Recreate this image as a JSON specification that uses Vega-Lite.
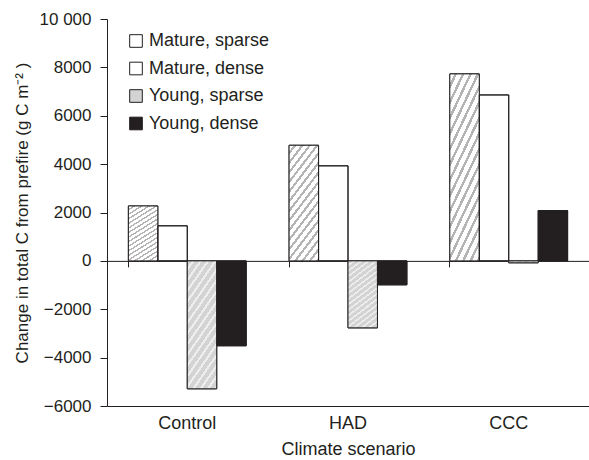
{
  "$schema": "https://vega.github.io/schema/vega-lite/v6.json",
  "width": 482,
  "height": 387,
  "autosize": {"type": "none"},
  "padding": {"left": 107, "top": 19, "right": 0, "bottom": 54},
  "config": {
    "font": "Liberation Sans",
    "view": {"stroke": null},
    "axis": {
      "labelFont": "Liberation Sans",
      "titleFont": "Liberation Sans",
      "labelFontSize": 17,
      "titleFontSize": 18,
      "titleFontWeight": "normal",
      "labelColor": "#231f20",
      "titleColor": "#231f20",
      "domainColor": "#231f20",
      "tickColor": "#231f20",
      "domainWidth": 1,
      "grid": false
    }
  },
  "data": {
    "values": [
      {"scenario": "Control", "stand": "Mature, sparse", "change": 2270},
      {"scenario": "Control", "stand": "Mature, dense", "change": 1450},
      {"scenario": "Control", "stand": "Young, sparse", "change": -5290},
      {"scenario": "Control", "stand": "Young, dense", "change": -3510},
      {"scenario": "HAD", "stand": "Mature, sparse", "change": 4780},
      {"scenario": "HAD", "stand": "Mature, dense", "change": 3930},
      {"scenario": "HAD", "stand": "Young, sparse", "change": -2770},
      {"scenario": "HAD", "stand": "Young, dense", "change": -990},
      {"scenario": "CCC", "stand": "Mature, sparse", "change": 7730},
      {"scenario": "CCC", "stand": "Mature, dense", "change": 6860},
      {"scenario": "CCC", "stand": "Young, sparse", "change": -80},
      {"scenario": "CCC", "stand": "Young, dense", "change": 2080}
    ]
  },
  "encoding": {
    "xOffset": {
      "field": "stand",
      "type": "nominal",
      "sort": ["Mature, sparse", "Mature, dense", "Young, sparse", "Young, dense"],
      "scale": {"paddingInner": 0, "paddingOuter": 0}
    },
    "y": {
      "field": "change",
      "type": "quantitative",
      "scale": {"domain": [-6000, 10000], "nice": false},
      "axis": {
        "title": "Change in total C from prefire (g C m⁻² )",
        "titleFontSize": 17,
        "values": [-6000, -4000, -2000, 0, 2000, 4000, 6000, 8000, 10000],
        "labelExpr": "datum.value == 10000 ? '10 000' : format(datum.value, 'd')",
        "tickSize": 7,
        "labelPadding": 9,
        "titlePadding": 8
      }
    }
  },
  "layer": [
    {
      "mark": {"type": "bar", "stroke": "#231f20", "strokeWidth": 1},
      "encoding": {
        "x": {
          "field": "scenario",
          "type": "nominal",
          "sort": ["Control", "HAD", "CCC"],
          "scale": {"paddingInner": 0.267, "paddingOuter": 0.133},
          "axis": {
            "orient": "bottom",
            "title": "Climate scenario",
            "labelAngle": 0,
            "labelFontSize": 18,
            "ticks": false,
            "domain": true,
            "labelPadding": 8,
            "titlePadding": 8
          }
        },
        "fill": {
          "field": "stand",
          "type": "nominal",
          "scale": {
            "domain": ["Mature, sparse", "Mature, dense", "Young, sparse", "Young, dense"],
            "range": ["#ffffff", "#ffffff", "#d3d3d3", "#231f20"]
          },
          "legend": {
            "orient": "none",
            "legendX": 20,
            "legendY": 13,
            "title": null,
            "labelFontSize": 18,
            "labelFont": "Liberation Sans",
            "labelColor": "#231f20",
            "symbolType": "square",
            "symbolSize": 160,
            "symbolStrokeColor": "#231f20",
            "symbolStrokeWidth": 1,
            "symbolOpacity": 1,
            "rowPadding": 9.5,
            "labelOffset": 4
          }
        }
      }
    },
    {
      "mark": {"type": "bar", "stroke": "#231f20", "strokeWidth": 1},
      "encoding": {
        "x": {
          "field": "scenario",
          "type": "nominal",
          "sort": ["Control", "HAD", "CCC"],
          "axis": {
            "orient": "top",
            "offset": -241.875,
            "labels": false,
            "title": null,
            "ticks": true,
            "tickSize": -6,
            "bandPosition": 0,
            "domain": true
          }
        },
        "fill": {
          "condition": [
            {"test": "datum.stand === 'Mature, sparse'", "value": {"gradient": "linear", "x1": 0, "y1": 0, "x2": 1, "y2": 3, "stops": [
              {"offset": 0, "color": "#ffffff"}, {"offset": 0.016, "color": "#ffffff"}, {"offset": 0.016, "color": "#b4b4b4"}, {"offset": 0.025, "color": "#b4b4b4"},
              {"offset": 0.025, "color": "#ffffff"}, {"offset": 0.041, "color": "#ffffff"}, {"offset": 0.041, "color": "#b4b4b4"}, {"offset": 0.05, "color": "#b4b4b4"},
              {"offset": 0.05, "color": "#ffffff"}, {"offset": 0.066, "color": "#ffffff"}, {"offset": 0.066, "color": "#b4b4b4"}, {"offset": 0.075, "color": "#b4b4b4"},
              {"offset": 0.075, "color": "#ffffff"}, {"offset": 0.091, "color": "#ffffff"}, {"offset": 0.091, "color": "#b4b4b4"}, {"offset": 0.1, "color": "#b4b4b4"},
              {"offset": 0.1, "color": "#ffffff"}, {"offset": 0.116, "color": "#ffffff"}, {"offset": 0.116, "color": "#b4b4b4"}, {"offset": 0.125, "color": "#b4b4b4"},
              {"offset": 0.125, "color": "#ffffff"}, {"offset": 0.141, "color": "#ffffff"}, {"offset": 0.141, "color": "#b4b4b4"}, {"offset": 0.15, "color": "#b4b4b4"},
              {"offset": 0.15, "color": "#ffffff"}, {"offset": 0.166, "color": "#ffffff"}, {"offset": 0.166, "color": "#b4b4b4"}, {"offset": 0.175, "color": "#b4b4b4"},
              {"offset": 0.175, "color": "#ffffff"}, {"offset": 0.191, "color": "#ffffff"}, {"offset": 0.191, "color": "#b4b4b4"}, {"offset": 0.2, "color": "#b4b4b4"},
              {"offset": 0.2, "color": "#ffffff"}, {"offset": 0.216, "color": "#ffffff"}, {"offset": 0.216, "color": "#b4b4b4"}, {"offset": 0.225, "color": "#b4b4b4"},
              {"offset": 0.225, "color": "#ffffff"}, {"offset": 0.241, "color": "#ffffff"}, {"offset": 0.241, "color": "#b4b4b4"}, {"offset": 0.25, "color": "#b4b4b4"},
              {"offset": 0.25, "color": "#ffffff"}, {"offset": 0.266, "color": "#ffffff"}, {"offset": 0.266, "color": "#b4b4b4"}, {"offset": 0.275, "color": "#b4b4b4"},
              {"offset": 0.275, "color": "#ffffff"}, {"offset": 0.291, "color": "#ffffff"}, {"offset": 0.291, "color": "#b4b4b4"}, {"offset": 0.3, "color": "#b4b4b4"},
              {"offset": 0.3, "color": "#ffffff"}, {"offset": 0.316, "color": "#ffffff"}, {"offset": 0.316, "color": "#b4b4b4"}, {"offset": 0.325, "color": "#b4b4b4"},
              {"offset": 0.325, "color": "#ffffff"}, {"offset": 0.341, "color": "#ffffff"}, {"offset": 0.341, "color": "#b4b4b4"}, {"offset": 0.35, "color": "#b4b4b4"},
              {"offset": 0.35, "color": "#ffffff"}, {"offset": 0.366, "color": "#ffffff"}, {"offset": 0.366, "color": "#b4b4b4"}, {"offset": 0.375, "color": "#b4b4b4"},
              {"offset": 0.375, "color": "#ffffff"}, {"offset": 0.391, "color": "#ffffff"}, {"offset": 0.391, "color": "#b4b4b4"}, {"offset": 0.4, "color": "#b4b4b4"},
              {"offset": 0.4, "color": "#ffffff"}, {"offset": 1, "color": "#ffffff"}
            ]}},
            {"test": "datum.stand === 'Young, sparse'", "value": {"gradient": "linear", "x1": 0, "y1": 0, "x2": 1, "y2": 3, "stops": [
              {"offset": 0, "color": "#d3d3d3"}, {"offset": 0.016, "color": "#d3d3d3"}, {"offset": 0.016, "color": "#ededed"}, {"offset": 0.025, "color": "#ededed"},
              {"offset": 0.025, "color": "#d3d3d3"}, {"offset": 0.041, "color": "#d3d3d3"}, {"offset": 0.041, "color": "#ededed"}, {"offset": 0.05, "color": "#ededed"},
              {"offset": 0.05, "color": "#d3d3d3"}, {"offset": 0.066, "color": "#d3d3d3"}, {"offset": 0.066, "color": "#ededed"}, {"offset": 0.075, "color": "#ededed"},
              {"offset": 0.075, "color": "#d3d3d3"}, {"offset": 0.091, "color": "#d3d3d3"}, {"offset": 0.091, "color": "#ededed"}, {"offset": 0.1, "color": "#ededed"},
              {"offset": 0.1, "color": "#d3d3d3"}, {"offset": 0.116, "color": "#d3d3d3"}, {"offset": 0.116, "color": "#ededed"}, {"offset": 0.125, "color": "#ededed"},
              {"offset": 0.125, "color": "#d3d3d3"}, {"offset": 0.141, "color": "#d3d3d3"}, {"offset": 0.141, "color": "#ededed"}, {"offset": 0.15, "color": "#ededed"},
              {"offset": 0.15, "color": "#d3d3d3"}, {"offset": 0.166, "color": "#d3d3d3"}, {"offset": 0.166, "color": "#ededed"}, {"offset": 0.175, "color": "#ededed"},
              {"offset": 0.175, "color": "#d3d3d3"}, {"offset": 0.191, "color": "#d3d3d3"}, {"offset": 0.191, "color": "#ededed"}, {"offset": 0.2, "color": "#ededed"},
              {"offset": 0.2, "color": "#d3d3d3"}, {"offset": 0.216, "color": "#d3d3d3"}, {"offset": 0.216, "color": "#ededed"}, {"offset": 0.225, "color": "#ededed"},
              {"offset": 0.225, "color": "#d3d3d3"}, {"offset": 0.241, "color": "#d3d3d3"}, {"offset": 0.241, "color": "#ededed"}, {"offset": 0.25, "color": "#ededed"},
              {"offset": 0.25, "color": "#d3d3d3"}, {"offset": 0.266, "color": "#d3d3d3"}, {"offset": 0.266, "color": "#ededed"}, {"offset": 0.275, "color": "#ededed"},
              {"offset": 0.275, "color": "#d3d3d3"}, {"offset": 0.291, "color": "#d3d3d3"}, {"offset": 0.291, "color": "#ededed"}, {"offset": 0.3, "color": "#ededed"},
              {"offset": 0.3, "color": "#d3d3d3"}, {"offset": 0.316, "color": "#d3d3d3"}, {"offset": 0.316, "color": "#ededed"}, {"offset": 0.325, "color": "#ededed"},
              {"offset": 0.325, "color": "#d3d3d3"}, {"offset": 0.341, "color": "#d3d3d3"}, {"offset": 0.341, "color": "#ededed"}, {"offset": 0.35, "color": "#ededed"},
              {"offset": 0.35, "color": "#d3d3d3"}, {"offset": 0.366, "color": "#d3d3d3"}, {"offset": 0.366, "color": "#ededed"}, {"offset": 0.375, "color": "#ededed"},
              {"offset": 0.375, "color": "#d3d3d3"}, {"offset": 0.391, "color": "#d3d3d3"}, {"offset": 0.391, "color": "#ededed"}, {"offset": 0.4, "color": "#ededed"},
              {"offset": 0.4, "color": "#d3d3d3"}, {"offset": 1, "color": "#d3d3d3"}
            ]}}
          ],
          "value": "transparent"
        }
      }
    }
  ],
  "resolve": {"axis": {"x": "independent"}}
}
